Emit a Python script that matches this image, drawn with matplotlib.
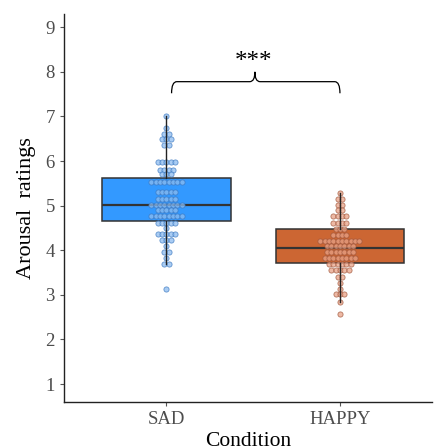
import numpy as np
import matplotlib
matplotlib.use("Agg")
import matplotlib.pyplot as plt
from matplotlib.path import Path
from matplotlib.patches import PathPatch

# data
conditions = ["SAD", "HAPPY"]

sad_levels = [7.0, 6.73, 6.6, 6.5, 6.37, 5.97, 5.8, 5.71, 5.53, 5.30, 5.16, 5.02,
              4.90, 4.76, 4.62, 4.50, 4.36, 4.23, 4.10, 3.96, 3.83, 3.69, 3.13]
sad_counts = [1, 1, 2, 3, 2, 5, 4, 3, 8, 5, 5, 8, 5, 8, 5, 1, 5, 3, 1, 2, 1, 2, 1]

happy_levels = [5.29, 5.16, 5.02, 4.90, 4.76, 4.62, 4.48, 4.35, 4.21, 4.09, 3.96,
                3.83, 3.69, 3.55, 3.41, 3.26, 3.13, 3.02, 2.85, 2.58]
happy_counts = [1, 2, 2, 2, 4, 4, 3, 4, 10, 7, 7, 8, 6, 5, 2, 1, 1, 3, 1, 1]

# box stats: q1, median, q3, lower whisker, upper whisker
sad_box = [4.66, 5.02, 5.61, 3.69, 7.0]
happy_box = [3.71, 4.05, 4.48, 2.85, 5.29]

box_colors = ["#3399ff", "#cc6633"]
dot_faces = ["#8cbcf0", "#e8a287"]
dot_edges = ["#3c78c0", "#a0553a"]

serif = ["Liberation Serif", "DejaVu Serif"]

fig = plt.figure(figsize=(4.35, 4.48), dpi=100)
ax = fig.add_axes([0.147, 0.103, 0.846, 0.866])

stats = []
for b in [sad_box, happy_box]:
    stats.append(dict(q1=b[0], med=b[1], q3=b[2], whislo=b[3], whishi=b[4], fliers=[]))

bp = ax.bxp(stats, positions=[1, 2], widths=0.74, patch_artist=True, showfliers=False,
            showcaps=False,
            boxprops=dict(edgecolor="#333333", linewidth=1.1),
            medianprops=dict(color="#333333", linewidth=1.6),
            whiskerprops=dict(color="#222222", linewidth=1.0))
for patch, c in zip(bp["boxes"], box_colors):
    patch.set_facecolor(c)
for w in bp["whiskers"]:
    w.set_zorder(4)

# dot plot, stacked centred
dx = 0.025
for i, (levels, counts) in enumerate([(sad_levels, sad_counts), (happy_levels, happy_counts)]):
    xs, ys = [], []
    for lv, n in zip(levels, counts):
        offs = (np.arange(n) - (n - 1) / 2) * dx
        xs.extend(i + 1 + offs)
        ys.extend([lv] * n)
    ax.scatter(xs, ys, s=14, facecolor=dot_faces[i], edgecolor=dot_edges[i],
               linewidth=0.6, alpha=0.75, zorder=3)

# curly bracket with stars
x0, x1, xm = 1.03, 2.0, 1.51
yb, yl, yt = 7.78, 7.52, 8.0
r = 0.03
verts = [(x0, yl), (x0, yb), (x0 + r, yb), (xm - r, yb), (xm, yb), (xm, yt),
         (xm, yt), (xm, yb), (xm + r, yb), (x1 - r, yb), (x1, yb), (x1, yl)]
codes = [Path.MOVETO, Path.CURVE3, Path.CURVE3, Path.LINETO, Path.CURVE3, Path.CURVE3,
         Path.MOVETO, Path.CURVE3, Path.CURVE3, Path.LINETO, Path.CURVE3, Path.CURVE3]
ax.add_patch(PathPatch(Path(verts, codes), facecolor="none", edgecolor="black", linewidth=0.9))
ax.text(xm - 0.01, 8.22, "***", ha="center", va="center", fontsize=18, family=serif)

ax.set_xlim(0.41, 2.53)
ax.set_ylim(0.6, 9.3)
ax.set_xticks([1, 2])
ax.set_xticklabels(conditions)
ax.set_yticks(range(1, 10))
ax.tick_params(colors="#555555", labelcolor="#4d4d4d", labelsize=13.5, length=3, width=0.8)
for lab in ax.get_xticklabels() + ax.get_yticklabels():
    lab.set_family(serif)

for s in ["top", "right"]:
    ax.spines[s].set_visible(False)
for s in ["left", "bottom"]:
    ax.spines[s].set_color("#222222")
    ax.spines[s].set_linewidth(1.0)

ax.set_ylabel("Arousal  ratings", fontsize=16, family=serif, labelpad=7)
ax.set_xlabel("Condition", fontsize=15.5, family=serif, labelpad=3)

fig.savefig("out.png", dpi=100)
